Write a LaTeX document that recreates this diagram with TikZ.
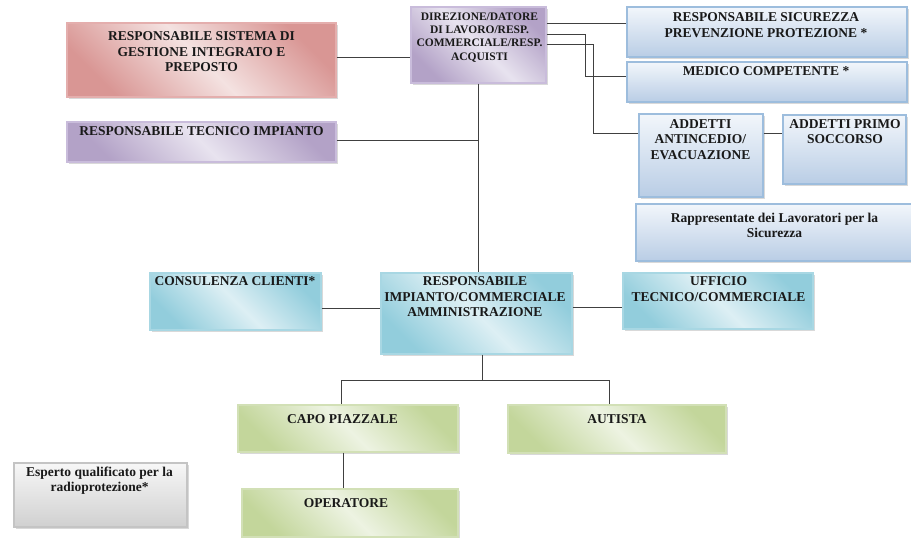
\documentclass[tikz,border=0pt]{standalone}
\usepackage{fontspec}
\setmainfont{Liberation Serif}
\usetikzlibrary{shadows}
\definecolor{redD}{HTML}{D99694}
\definecolor{redL}{HTML}{F4E2E1}
\definecolor{redB}{HTML}{E4AEAD}
\definecolor{purD}{HTML}{B3A2C7}
\definecolor{purL}{HTML}{E8E3EF}
\definecolor{purB}{HTML}{C9BCDB}
\definecolor{bluD}{HTML}{B9CDE5}
\definecolor{bluL}{HTML}{F2F6FB}
\definecolor{bluB}{HTML}{9DBDDD}
\definecolor{teaD}{HTML}{92CDDC}
\definecolor{teaL}{HTML}{DDEFF4}
\definecolor{teaB}{HTML}{A8D7E3}
\definecolor{griD}{HTML}{D0D0D0}
\definecolor{griL}{HTML}{F7F7F7}
\definecolor{griB}{HTML}{C4C4C4}
\definecolor{greD}{HTML}{C3D69B}
\definecolor{greL}{HTML}{EDF3E2}
\definecolor{greB}{HTML}{D2E0B6}
\definecolor{lineC}{HTML}{404040}
\tikzset{
  box/.style={rectangle, inner sep=0pt, line width=1.1pt,
    drop shadow={shadow xshift=1.5pt, shadow yshift=-1.5pt, opacity=0.3}},
  sz/.style 2 args={minimum width=#1pt, minimum height=#2pt},
  redbox/.style={box, draw=redB, top color=redD, bottom color=redD, middle color=redL, shading angle=-45},
  purbox/.style={box, draw=purB, top color=purD, bottom color=purD, middle color=purL, shading angle=-45},
  blubox/.style={box, draw=bluB, top color=bluL, bottom color=bluD},
  teabox/.style={box, draw=teaB, top color=teaD, bottom color=teaD, middle color=teaL, shading angle=-45},
  grebox/.style={box, draw=greB, top color=greD, bottom color=greD, middle color=greL, shading angle=-45},
  gribox/.style={box, draw=griB, top color=griL, bottom color=griD},
  lbl/.style={font=\bfseries\fontsize{13.5}{15.5}\selectfont, align=center, inner sep=0pt, anchor=north, text=black!90},
  lbls/.style={font=\bfseries\fontsize{11.5}{13.3}\selectfont, align=center, inner sep=0pt, anchor=north, text=black!90},
  conn/.style={draw=lineC, line width=0.8pt},
}
\begin{document}
\begin{tikzpicture}[x=1pt, y=-1pt]
\useasboundingbox (0,0) rectangle (911,538);
% boxes
\node[redbox, sz={269}{74}] (rsg) at (201.5,60) {};
\node[purbox, sz={269}{40}] (tec) at (201.5,142) {};
\node[purbox, sz={135}{76}] (dir) at (478.5,45) {};
\node[blubox, sz={280}{50}] (sic) at (767,32) {};
\node[blubox, sz={280}{40}] (med) at (767,82) {};
\node[blubox, sz={124}{83}] (ant) at (701,155.5) {};
\node[blubox, sz={123}{69}] (pri) at (844.5,149.5) {};
\node[blubox, sz={280}{57}] (rap) at (776,232.5) {};
\node[teabox, sz={171}{57}] (con) at (235.5,301.5) {};
\node[teabox, sz={191}{81}] (rim) at (476.5,313.5) {};
\node[teabox, sz={190}{56}] (uff) at (718,301) {};
\node[grebox, sz={220}{47}] (cap) at (348,428.5) {};
\node[grebox, sz={218}{48}] (aut) at (617,429) {};
\node[grebox, sz={216}{48}] (ope) at (350,513) {};
\node[gribox, sz={173}{64}] (esp) at (100.5,495) {};
% labels
\node[lbl] (rsgT) at (201.5,31.5) {RESPONSABILE SISTEMA DI\\GESTIONE INTEGRATO E\\PREPOSTO};
\node[lbl] (tecT) at (201.5,126) {RESPONSABILE TECNICO IMPIANTO};
\node[lbls] (dirT) at (479.5,12.5) {DIREZIONE/DATORE\\DI LAVORO/RESP.\\COMMERCIALE/RESP.\\ACQUISTI};
\node[lbl] (sicT) at (766,12.5) {RESPONSABILE SICUREZZA\\PREVENZIONE PROTEZIONE *};
\node[lbl] (medT) at (766,66.5) {MEDICO COMPETENTE *};
\node[lbl] (antT) at (700.5,119) {ADDETTI\\ANTINCEDIO/\\EVACUAZIONE};
\node[lbl] (priT) at (845,119) {ADDETTI PRIMO\\SOCCORSO};
\node[lbl] (rapT) at (774.5,212.5) {Rappresentate dei Lavoratori per la\\Sicurezza};
\node[lbl] (conT) at (235,276.5) {CONSULENZA CLIENTI*};
\node[lbl] (rimT) at (475,276.5) {RESPONSABILE\\IMPIANTO/COMMERCIALE\\AMMINISTRAZIONE};
\node[lbl] (uffT) at (718.5,276.5) {UFFICIO\\TECNICO/COMMERCIALE};
\node[lbl] (capT) at (342.5,414.5) {CAPO PIAZZALE};
\node[lbl] (autT) at (617,414.5) {AUTISTA};
\node[lbl] (opeT) at (346,498) {OPERATORE};
\node[lbl] (espT) at (99.5,466.5) {Esperto qualificato per la\\radioprotezione*};
% connectors
\draw[conn] (rsg.east |- 0,57) -- (dir.west |- 0,57);
\draw[conn] (dir.south) -- (dir.south |- rim.north);
\draw[conn] (tec.east |- 0,140) -- (dir.south |- 0,140);
\draw[conn] (dir.east |- 0,23) -- (sic.west |- 0,23);
\draw[conn] (dir.east |- 0,34) -| (585,76) -- (med.west |- 0,76);
\draw[conn] (dir.east |- 0,44) -| (593,133) -- (ant.west |- 0,133);
\draw[conn] (ant.east |- 0,133) -- (pri.west |- 0,133);
\draw[conn] (con.east |- 0,308) -- (rim.west |- 0,308);
\draw[conn] (rim.east |- 0,307) -- (uff.west |- 0,307);
\coordinate (split) at (482,380);
\draw[conn] (rim.south -| split) -- (split);
\draw[conn] (split) -| (cap.north -| 341,0);
\draw[conn] (split) -| (aut.north -| 609,0);
\draw[conn] (cap.south -| 343,0) -- (ope.north -| 343,0);
\end{tikzpicture}
\end{document}
